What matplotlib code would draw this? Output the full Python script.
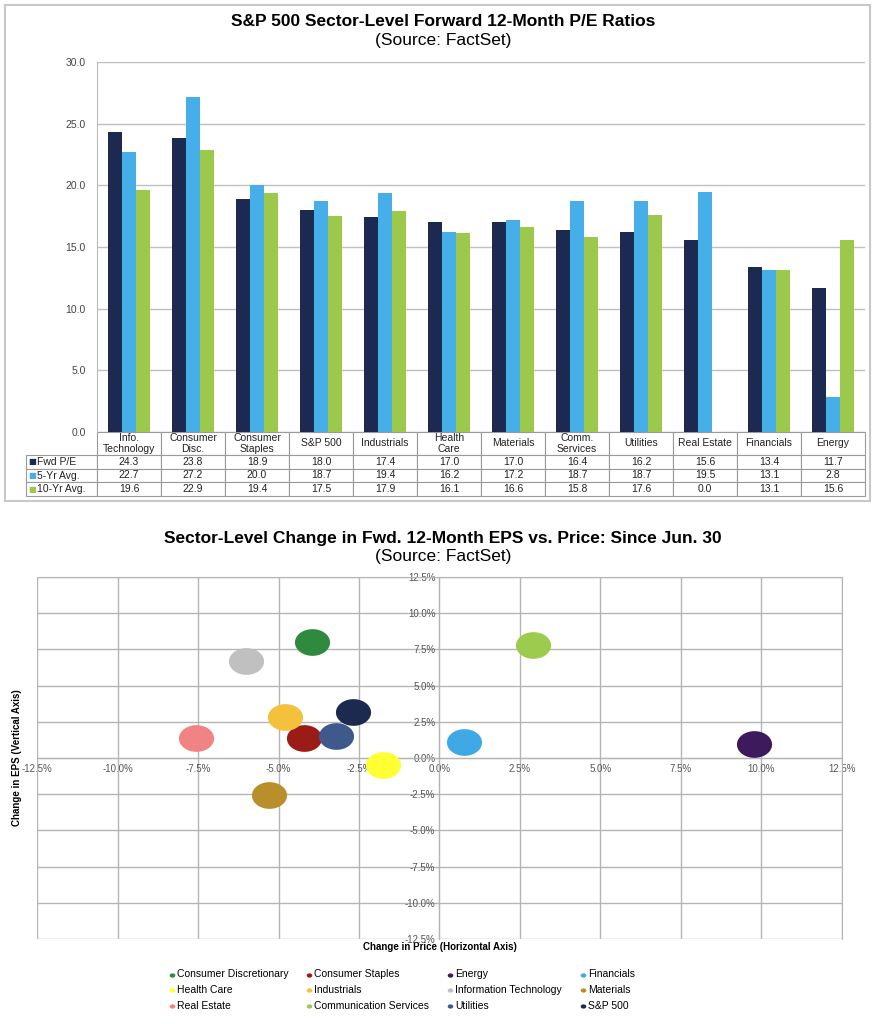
import numpy as np
import matplotlib.pyplot as plt
from matplotlib.patches import Rectangle
from matplotlib.path import Path

plt.rcParams['font.family'] = ['Liberation Sans Narrow', 'Liberation Sans', 'DejaVu Sans']

# top chart data
sectors = ["Info.\nTechnology", "Consumer\nDisc.", "Consumer\nStaples", "S&P 500", "Industrials",
           "Health\nCare", "Materials", "Comm.\nServices", "Utilities", "Real Estate",
           "Financials", "Energy"]
fwd_pe = [24.3, 23.8, 18.9, 18.0, 17.4, 17.0, 17.0, 16.4, 16.2, 15.6, 13.4, 11.7]
avg_5yr = [22.7, 27.2, 20.0, 18.7, 19.4, 16.2, 17.2, 18.7, 18.7, 19.5, 13.1, 2.8]
avg_10yr = [19.6, 22.9, 19.4, 17.5, 17.9, 16.1, 16.6, 15.8, 17.6, 0.0, 13.1, 15.6]
series_names = ["Fwd P/E", "5-Yr Avg.", "10-Yr Avg."]
series_colors = ["#1c2951", "#46aee8", "#9cc84b"]
pe_ticks = [0, 5, 10, 15, 20, 25, 30]

# bottom chart data
eps_sectors = ["Consumer Discretionary", "Consumer Staples", "Energy", "Financials",
               "Health Care", "Industrials", "Information Technology", "Materials",
               "Real Estate", "Communication Services", "Utilities", "S&P 500"]
price_chg = [-3.95, -4.2, 9.77, 0.75, -1.75, -4.8, -6.0, -5.3, -7.55, 2.9, -3.2, -2.7]
eps_chg = [8.0, 1.35, 0.95, 1.1, -0.5, 2.85, 6.7, -2.55, 1.35, 7.8, 1.5, 3.15]
eps_colors = ["#2e8b3e", "#9b1b17", "#3d1a5c", "#3fa9e6", "#ffff33", "#f4c13c",
              "#c0c0c0", "#b88f2a", "#f08383", "#9dcb4d", "#3e5a8c", "#1b2a4e"]
pct_ticks = [-12.5, -10, -7.5, -5, -2.5, 0, 2.5, 5, 7.5, 10, 12.5]

W, H = 887, 1024
fig = plt.figure(figsize=(W / 100, H / 100), dpi=100)

# border around the top chart
fig.add_artist(Rectangle((5 / W, 1 - 501 / H), 865 / W, 496 / H, transform=fig.transFigure,
                         fill=False, edgecolor="#c8c8c8", lw=1.5))

fig.text(443 / W, 1 - 22 / H, "S&P 500 Sector-Level Forward 12-Month P/E Ratios",
         ha="center", va="center", fontsize=12.5, fontweight="bold")
fig.text(443 / W, 1 - 41 / H, "(Source: FactSet)", ha="center", va="center", fontsize=12.5)

ax1 = fig.add_axes([97 / W, 1 - 432 / H, 768 / W, 370 / H])
x = np.arange(len(sectors))
bw = 0.22
for i, vals in enumerate([fwd_pe, avg_5yr, avg_10yr]):
    ax1.bar(x + (i - 1) * bw, vals, bw, color=series_colors[i], zorder=3)
ax1.set_xlim(-0.5, len(sectors) - 0.5)
ax1.set_ylim(0, 30)
ax1.set_yticks(pe_ticks)
ax1.set_yticklabels([f"{t:.1f}" for t in pe_ticks])
ax1.set_xticks([])
ax1.tick_params(axis="y", length=0, pad=8, labelsize=7.5, labelcolor="#444444")
ax1.grid(axis="y", color="#c0c0c0", lw=1, zorder=0)
for s in ["top", "right", "bottom"]:
    ax1.spines[s].set_visible(False)
ax1.spines["left"].set_color("#bbbbbb")

# table under the bars: first column holds the series names (drawn separately)
cell_text = [[""] + [f"{v:.1f}" for v in vals] for vals in [fwd_pe, avg_5yr, avg_10yr]]
tab = ax1.table(cellText=cell_text, colLabels=[""] + sectors, cellLoc="center",
                colWidths=[71 / 768] + [64 / 768] * len(sectors),
                bbox=[-71 / 768, -64 / 370, 839 / 768, 64 / 370])
tab.auto_set_font_size(False)
tab.set_fontsize(7.5)
for (r, c), cell in tab.get_celld().items():
    cell.set_edgecolor("#9a9a9a")
    cell.set_linewidth(0.8)
    cell.set_height(23 if r == 0 else 13.7)
    cell.get_text().set_color("#222222")
tab[0, 0].visible_edges = "open"

row_y = [461.9, 475.6, 489.3]
for name, col, yy in zip(series_names, series_colors, row_y):
    ya = -(yy - 432) / 370
    ax1.text((32 - 97) / 768, ya, "■", color=col, fontsize=6, ha="center", va="center",
             transform=ax1.transAxes, family="DejaVu Sans")
    ax1.text((37 - 97) / 768, ya, name, color="#222222", fontsize=7.5, ha="left", va="center",
             transform=ax1.transAxes)

# bottom chart
fig.text(443 / W, 1 - 538 / H, "Sector-Level Change in Fwd. 12-Month EPS vs. Price: Since Jun. 30",
         ha="center", va="center", fontsize=12.5, fontweight="bold")
fig.text(443 / W, 1 - 557 / H, "(Source: FactSet)", ha="center", va="center", fontsize=12.5)

theta = np.linspace(0, 2 * np.pi, 73)
ellipse = Path(np.column_stack([np.cos(theta), 0.76 * np.sin(theta)]), closed=True)

ax2 = fig.add_axes([37 / W, 1 - 939 / H, 805 / W, 362 / H])
for name, px, py, col in zip(eps_sectors, price_chg, eps_chg, eps_colors):
    ax2.scatter(px, py, s=640, marker=ellipse, color=col, label=name, zorder=4, linewidths=0)
ax2.set_xlim(-12.5, 12.5)
ax2.set_ylim(-12.5, 12.5)
ax2.set_xticks(pct_ticks)
ax2.set_yticks(pct_ticks)
ax2.set_xticklabels([f"{t:.1f}%" for t in pct_ticks])
ax2.set_yticklabels([f"{t:.1f}%" for t in pct_ticks])
ax2.tick_params(axis="x", length=0, pad=4, labelsize=7, labelcolor="#555555")
ax2.tick_params(axis="y", length=0, pad=3, labelsize=7, labelcolor="#555555")
ax2.grid(color="#b5b5b5", lw=1, zorder=0)
ax2.spines["left"].set_position(("data", 0))
ax2.spines["bottom"].set_position(("data", 0))
for s in ax2.spines.values():
    s.set_color("#b5b5b5")
ax2.set_xlabel("Change in Price (Horizontal Axis)", fontsize=7, fontweight="bold")
ax2.set_ylabel("Change in EPS (Vertical Axis)", fontsize=7, fontweight="bold")
ax2.xaxis.set_label_coords(0.5, -0.008)
ax2.yaxis.set_label_coords(-15 / 805, 0.5)

handles, labels = ax2.get_legend_handles_labels()
order = [0, 4, 8, 1, 5, 9, 2, 6, 10, 3, 7, 11]
fig.legend([handles[i] for i in order], [labels[i] for i in order], ncol=4,
           loc="upper left", bbox_to_anchor=(158 / W, 1 - 960 / H), frameon=False,
           fontsize=7.5, markerscale=0.16, handletextpad=0.1, columnspacing=1.6,
           labelspacing=0.55, handlelength=0.8)

fig.savefig("out.png", dpi=100)
